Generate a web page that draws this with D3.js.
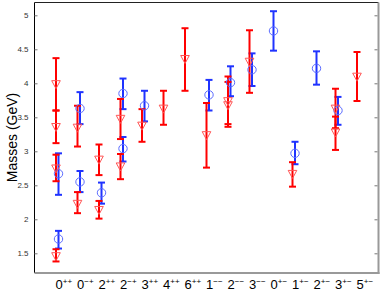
<!DOCTYPE html>
<html><head><meta charset="utf-8">
<script src="https://cdn.jsdelivr.net/npm/d3@7/dist/d3.min.js"></script>
<style>
html,body{margin:0;padding:0;background:#fff;}
svg{display:block;font-family:"Liberation Sans",Arial,sans-serif;}
</style></head>
<body><svg id="c" width="382" height="293"></svg>
<script>
// ---- data ----
const catBase = ["0","0","2","2","3","4","6","1","2","3","0","1","2","3","5"];
const catSup  = ["++","\u2212+","++","\u2212+","++","++","++","\u2212\u2212","\u2212\u2212","\u2212\u2212","+\u2212","+\u2212","+\u2212","+\u2212","+\u2212"];
const yTicks = [1.5,2,2.5,3,3.5,4,4.5,5];

// red series (triangles): category index, value, lower, upper
const redCat = [0,0,0,0, 1,1, 2,2, 3,3, 4, 5, 6, 7, 8,8, 9, 11, 13,13, 14];
const redVal = [3.98,3.35,2.74,1.45, 3.34,2.22, 2.87,2.13, 3.47,2.77, 3.37, 3.62, 4.35, 3.23, 3.73,3.67, 4.31, 2.66, 3.62,3.27, 4.09];
const redLo  = [3.60,3.12,2.56,1.38, 3.07,2.09, 2.65,2.01, 3.18,2.59, 3.14, 3.39, 3.89, 2.76, 3.40,3.36, 3.86, 2.48, 3.34,3.02, 3.74];
const redHi  = [4.37,3.60,2.95,1.56, 3.67,2.40, 3.10,2.27, 3.77,2.96, 3.62, 3.89, 4.81, 3.71, 4.10,4.02, 4.78, 2.84, 3.92,3.51, 4.46];

// blue series (circles)
const blueCat = [0,0, 1,1, 2, 3,3, 4, 7, 8, 9, 10, 11, 12, 13];
const blueVal = [2.67,1.71, 3.63,2.55, 2.39, 3.85,3.04, 3.67, 3.83, 4.01, 4.20, 4.77, 2.97, 4.22, 3.60];
const blueLo  = [2.36,1.57, 3.40,2.40, 2.23, 3.62,2.85, 3.44, 3.60, 3.81, 3.96, 4.48, 2.81, 3.98, 3.39];
const blueHi  = [2.97,1.83, 3.87,2.71, 2.54, 4.07,3.21, 3.89, 4.05, 4.25, 4.44, 5.06, 3.14, 4.47, 3.80];

// ---- layout ----
const L = 34.5, R = 378.5, T = 2.5, B = 273;
const x = d3.scaleLinear().domain([-1, 15]).range([L, R]);
const y = d3.scaleLinear().domain([1.2, 5.2]).range([273.7, 1.7]);
const svg = d3.select("#c");

// frame
svg.append("line").attr("x1",L).attr("x2",L).attr("y1",T).attr("y2",B).attr("stroke","#000").attr("stroke-width",1);
svg.append("line").attr("x1",L).attr("x2",R).attr("y1",T).attr("y2",T).attr("stroke","#222").attr("stroke-width",1);
svg.append("line").attr("x1",R).attr("x2",R).attr("y1",T).attr("y2",B+1).attr("stroke","#999").attr("stroke-width",2);
svg.append("line").attr("x1",L).attr("x2",R+1).attr("y1",B).attr("y2",B).attr("stroke","#999").attr("stroke-width",2);

// left axis
const gl = svg.append("g").attr("transform",`translate(${L},0)`)
  .call(d3.axisLeft(y).tickValues(yTicks).tickSize(-3).tickPadding(6).tickFormat(d3.format("")));
gl.select(".domain").remove();
gl.selectAll(".tick line").attr("stroke","#777");
gl.selectAll(".tick text").attr("fill","#333").style("font-size","8px").attr("font-family","'Liberation Sans',Arial,sans-serif");

// right axis ticks
const gr = svg.append("g").attr("transform",`translate(${R-1},0)`)
  .call(d3.axisRight(y).tickValues(yTicks).tickSize(-3).tickFormat(""));
gr.select(".domain").remove();
gr.selectAll(".tick line").attr("stroke","#777");

// x labels
const xl = svg.append("g");
catBase.forEach((b,i)=>{
  const t = xl.append("text").attr("x", x(i)-0.5).attr("y",289).attr("fill","#000")
    .style("font-size","13px");
  t.append("tspan").text(b);
  t.append("tspan").attr("dy",-5.5).style("font-size","8px").text(catSup[i]);
});

// y label
svg.append("text").attr("transform","translate(17,137.5) rotate(-90)")
  .attr("text-anchor","middle").style("font-size","14px").attr("fill","#000").text("Masses (GeV)");

const cap = 3.5;
function errbars(cat, lo, hi, dx, color){
  const g = svg.append("g").attr("stroke",color).attr("stroke-width",2).attr("fill","none");
  cat.forEach((c,i)=>{
    const cx = x(c)+dx;
    g.append("line").attr("x1",cx).attr("x2",cx).attr("y1",y(lo[i])).attr("y2",y(hi[i]));
    g.append("line").attr("x1",cx-cap).attr("x2",cx+cap).attr("y1",y(lo[i])).attr("y2",y(lo[i]));
    g.append("line").attr("x1",cx-cap).attr("x2",cx+cap).attr("y1",y(hi[i])).attr("y2",y(hi[i]));
  });
}

errbars(blueCat, blueLo, blueHi, 2.5, "#1f33ff");
errbars(redCat, redLo, redHi, 0, "#ff0000");

// markers
svg.append("g").selectAll("circle").data(blueCat).join("circle")
  .attr("cx",(c)=>x(c)+2.5).attr("cy",(c,i)=>y(blueVal[i])).attr("r",4.2)
  .attr("fill","none").attr("stroke","#5a6bff").attr("stroke-width",1);
svg.append("g").selectAll("path").data(redCat).join("path")
  .attr("transform",(c,i)=>`translate(${x(c)},${y(redVal[i])})`)
  .attr("d","M-4.3,-4L4.3,-4L0,4Z")
  .attr("fill","none").attr("stroke","#ff5555").attr("stroke-width",1);
</script></body></html>
